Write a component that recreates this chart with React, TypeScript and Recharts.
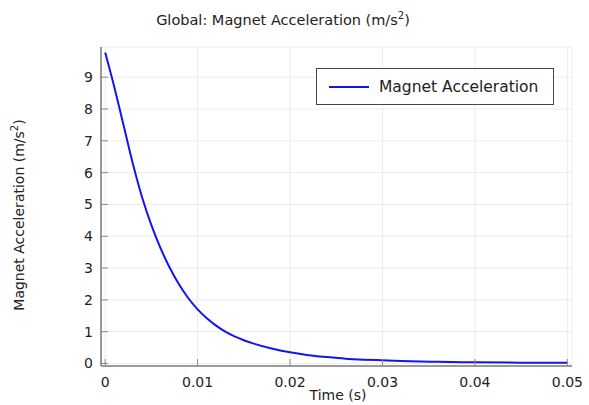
import React from 'react'
import { LineChart, Line, XAxis, YAxis, CartesianGrid, Legend } from 'recharts'

// time samples (s) and magnet acceleration (m/s^2)
const times = [
  0, 0.001, 0.002, 0.003, 0.004, 0.005, 0.006, 0.007, 0.008, 0.009, 0.01,
  0.011, 0.012, 0.013, 0.014, 0.015, 0.016, 0.018, 0.02, 0.022, 0.024,
  0.026, 0.028, 0.03, 0.033, 0.036, 0.04, 0.045, 0.05,
]
const accel = [
  9.78, 8.68, 7.48, 6.28, 5.22, 4.35, 3.62, 3.0, 2.48, 2.05, 1.7,
  1.42, 1.19, 1.0, 0.85, 0.73, 0.63, 0.47, 0.35, 0.26, 0.2,
  0.15, 0.12, 0.1, 0.07, 0.05, 0.035, 0.025, 0.02,
]
const xTicks = [0, 0.01, 0.02, 0.03, 0.04, 0.05]
const yTicks = [0, 1, 2, 3, 4, 5, 6, 7, 8, 9]

const seriesName = 'Magnet Acceleration'
const data = times.map((t, i) => ({ t, a: accel[i] }))

const FONT = '"DejaVu Sans", sans-serif'
const TXT = '#222'
const TICK = '#8a8a8a'

const BottomTick = (props: any) => {
  const { x, y, payload } = props
  return (
    <g>
      <line x1={x} y1={y} x2={x} y2={y - 7} stroke={TICK} />
      <text x={x} y={y + 21} textAnchor="middle" fontSize={14} fill={TXT} fontFamily={FONT}>
        {String(payload.value)}
      </text>
    </g>
  )
}

const LeftTick = (props: any) => {
  const { x, y, payload } = props
  return (
    <g>
      <line x1={x} y1={y} x2={x + 7} y2={y} stroke={TICK} />
      <text x={x - 8} y={y} dy="0.35em" textAnchor="end" fontSize={14} fill={TXT} fontFamily={FONT}>
        {String(payload.value)}
      </text>
    </g>
  )
}

const TopTick = (props: any) => {
  const { x, y } = props
  return <line x1={x} y1={y} x2={x} y2={y + 7} stroke={TICK} />
}

const RightTick = (props: any) => {
  const { x, y } = props
  return <line x1={x} y1={y} x2={x - 7} y2={y} stroke={TICK} />
}

const LegendBox = () => (
  <div
    style={{
      boxSizing: 'border-box',
      width: 238,
      height: 37,
      border: '1.5px solid #444',
      background: '#fff',
      display: 'flex',
      alignItems: 'center',
      fontFamily: FONT,
      fontSize: 15.5,
      color: TXT,
    }}
  >
    <svg width={62} height={10} style={{ flex: 'none' }}>
      <line x1={12} y1={5} x2={52} y2={5} stroke="#1414f0" strokeWidth={2} />
    </svg>
    <span>{seriesName}</span>
  </div>
)

export default function App() {
  return (
    <div style={{ position: 'absolute', left: 0, top: 0, width: 589, height: 405, background: '#fff' }}>
      <LineChart width={589} height={405} data={data} margin={{ top: 47, right: 17, bottom: 0, left: 41 }}>
        <text x={283} y={25} textAnchor="middle" fontSize={14.5} fill={TXT} fontFamily={FONT}>
          Global: Magnet Acceleration (m/s
          <tspan dy={-6} fontSize={10}>2</tspan>
          <tspan dy={6}>)</tspan>
        </text>
        <CartesianGrid stroke="#ececec" strokeWidth={1} />
        <XAxis
          dataKey="t"
          type="number"
          domain={[-0.00045, 0.0505]}
          allowDataOverflow
          ticks={xTicks}
          interval={0}
          height={39}
          tickSize={0}
          tickMargin={0}
          tick={<BottomTick />}
          axisLine={{ stroke: '#9a9a9a', strokeWidth: 2 }}
          label={{
            content: () => (
              <text x={338} y={400} textAnchor="middle" fontSize={14} fill={TXT} fontFamily={FONT}>
                Time (s)
              </text>
            ),
          }}
        />
        <XAxis
          xAxisId="top"
          orientation="top"
          dataKey="t"
          type="number"
          domain={[-0.00045, 0.0505]}
          allowDataOverflow
          ticks={xTicks}
          interval={0}
          height={0}
          tickSize={0}
          tickMargin={0}
          tick={<TopTick />}
          axisLine={{ stroke: '#a0a0a0', strokeWidth: 1 }}
        />
        <YAxis
          type="number"
          domain={[-0.08, 9.95]}
          allowDataOverflow
          ticks={yTicks}
          interval={0}
          width={60}
          tickSize={0}
          tickMargin={0}
          tick={<LeftTick />}
          axisLine={{ stroke: '#9a9a9a', strokeWidth: 2 }}
          label={{
            content: () => (
              <text
                x={24}
                y={215}
                transform="rotate(-90 24 215)"
                textAnchor="middle"
                fontSize={14}
                fill={TXT}
                fontFamily={FONT}
              >
                Magnet Acceleration (m/s
                <tspan dy={-6} fontSize={10}>2</tspan>
                <tspan dy={6}>)</tspan>
              </text>
            ),
          }}
        />
        <YAxis
          yAxisId="right"
          orientation="right"
          type="number"
          domain={[-0.08, 9.95]}
          allowDataOverflow
          ticks={yTicks}
          interval={0}
          width={0}
          tickSize={0}
          tickMargin={0}
          tick={<RightTick />}
          axisLine={{ stroke: '#a0a0a0', strokeWidth: 1 }}
        />
        <Legend
          layout="vertical"
          align="center"
          verticalAlign="middle"
          content={<LegendBox />}
          wrapperStyle={{ position: 'absolute', left: 316, top: 68, width: 238, height: 37 }}
        />
        <Line
          type="monotone"
          dataKey="a"
          name={seriesName}
          stroke="#1414f0"
          strokeWidth={2}
          dot={false}
          activeDot={false}
          isAnimationActive={false}
        />
      </LineChart>
    </div>
  )
}
